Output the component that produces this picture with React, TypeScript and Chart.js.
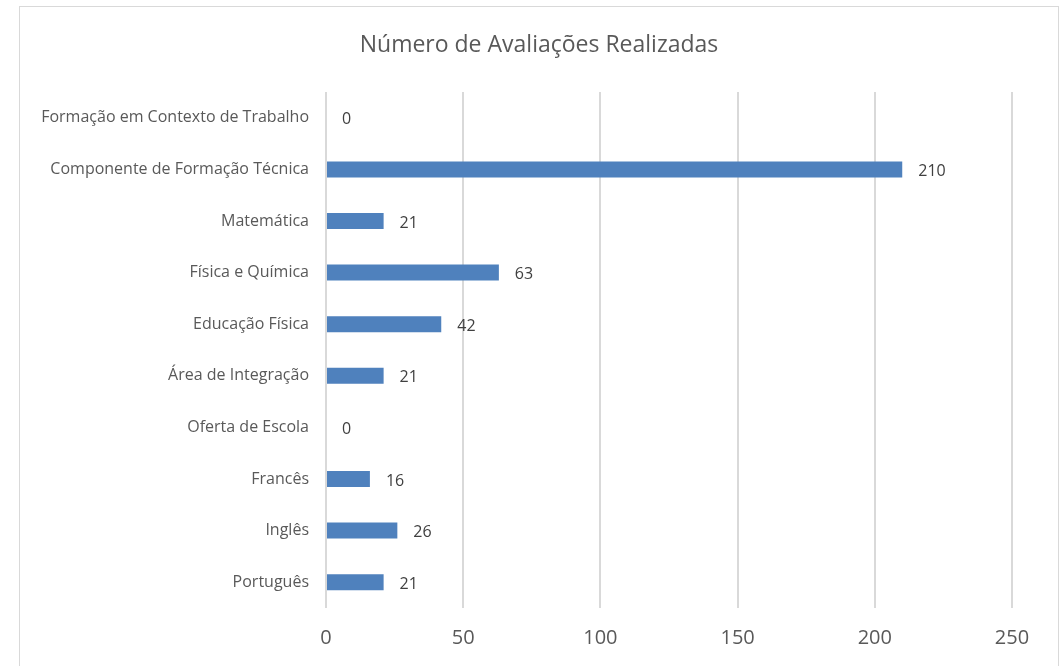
import React, { useEffect, useRef } from "react";
import { Chart, registerables } from "chart.js";

Chart.register(...registerables);

const categories = [
  "Formação em Contexto de Trabalho",
  "Componente de Formação Técnica",
  "Matemática",
  "Física e Química",
  "Educação Física",
  "Área de Integração",
  "Oferta de Escola",
  "Francês",
  "Inglês",
  "Português",
];
const values = [0, 210, 21, 63, 42, 21, 0, 16, 26, 21];
const chartTitle = "Número de Avaliações Realizadas";
const xMin = 0;
const xMax = 250;
const xStep = 50;

const FONT = "'Open Sans', 'Noto Sans', sans-serif";

const framePlugin = {
  id: "frame",
  beforeDraw(chart: any) {
    const { ctx } = chart;
    ctx.save();
    ctx.fillStyle = "#ffffff";
    ctx.fillRect(0, 0, chart.width, chart.height);
    ctx.strokeStyle = "#d9d9d9";
    ctx.lineWidth = 1;
    ctx.strokeRect(19.5, 6.5, 1039, 680);
    ctx.fillStyle = "#595959";
    ctx.font = `23px ${FONT}`;
    ctx.textAlign = "center";
    ctx.textBaseline = "middle";
    ctx.fillText(chartTitle, 539, 45);
    ctx.restore();
  },
};

const labelPlugin = {
  id: "valueLabels",
  afterDatasetsDraw(chart: any) {
    const { ctx } = chart;
    const meta = chart.getDatasetMeta(0);
    ctx.save();
    ctx.fillStyle = "#404040";
    ctx.font = `16px ${FONT}`;
    ctx.textAlign = "left";
    ctx.textBaseline = "middle";
    meta.data.forEach((el: any, i: number) => {
      ctx.fillText(String(values[i]), el.x + 16, el.y + 2);
    });
    ctx.restore();
  },
};

export default function App() {
  const ref = useRef<HTMLCanvasElement>(null);
  useEffect(() => {
    if (!ref.current) return;
    const chart = new Chart(ref.current, {
      type: "bar",
      data: {
        labels: categories,
        datasets: [
          {
            data: values,
            backgroundColor: "#4f81bd",
            borderWidth: 0,
            barPercentage: 0.62,
            categoryPercentage: 0.5,
          },
        ],
      },
      options: {
        indexAxis: "y",
        animation: false,
        responsive: false,
        maintainAspectRatio: false,
        layout: { padding: { top: 92, left: 0, right: 48, bottom: 0 } },
        plugins: {
          legend: { display: false },
          title: { display: false },
          tooltip: { enabled: false },
        },
        scales: {
          x: {
            min: xMin,
            max: xMax,
            ticks: {
              stepSize: xStep,
              color: "#595959",
              font: { family: FONT, size: 20 },
              padding: 18,
            },
            grid: { color: "#d9d9d9", lineWidth: 2, drawTicks: false },
            border: { display: false },
            afterFit(scale: any) {
              scale.height = 58;
            },
          },
          y: {
            ticks: {
              color: "#595959",
              font: { family: FONT, size: 16 },
              padding: 17,
            },
            grid: { display: false, drawTicks: false },
            border: { display: false },
            afterFit(scale: any) {
              scale.width = 326;
            },
          },
        },
      },
      plugins: [framePlugin, labelPlugin],
    });
    return () => chart.destroy();
  }, []);
  return (
    <div style={{ position: "fixed", left: 0, top: 0, width: 1060, height: 666 }}>
      <canvas ref={ref} width={1060} height={666} />
    </div>
  );
}
